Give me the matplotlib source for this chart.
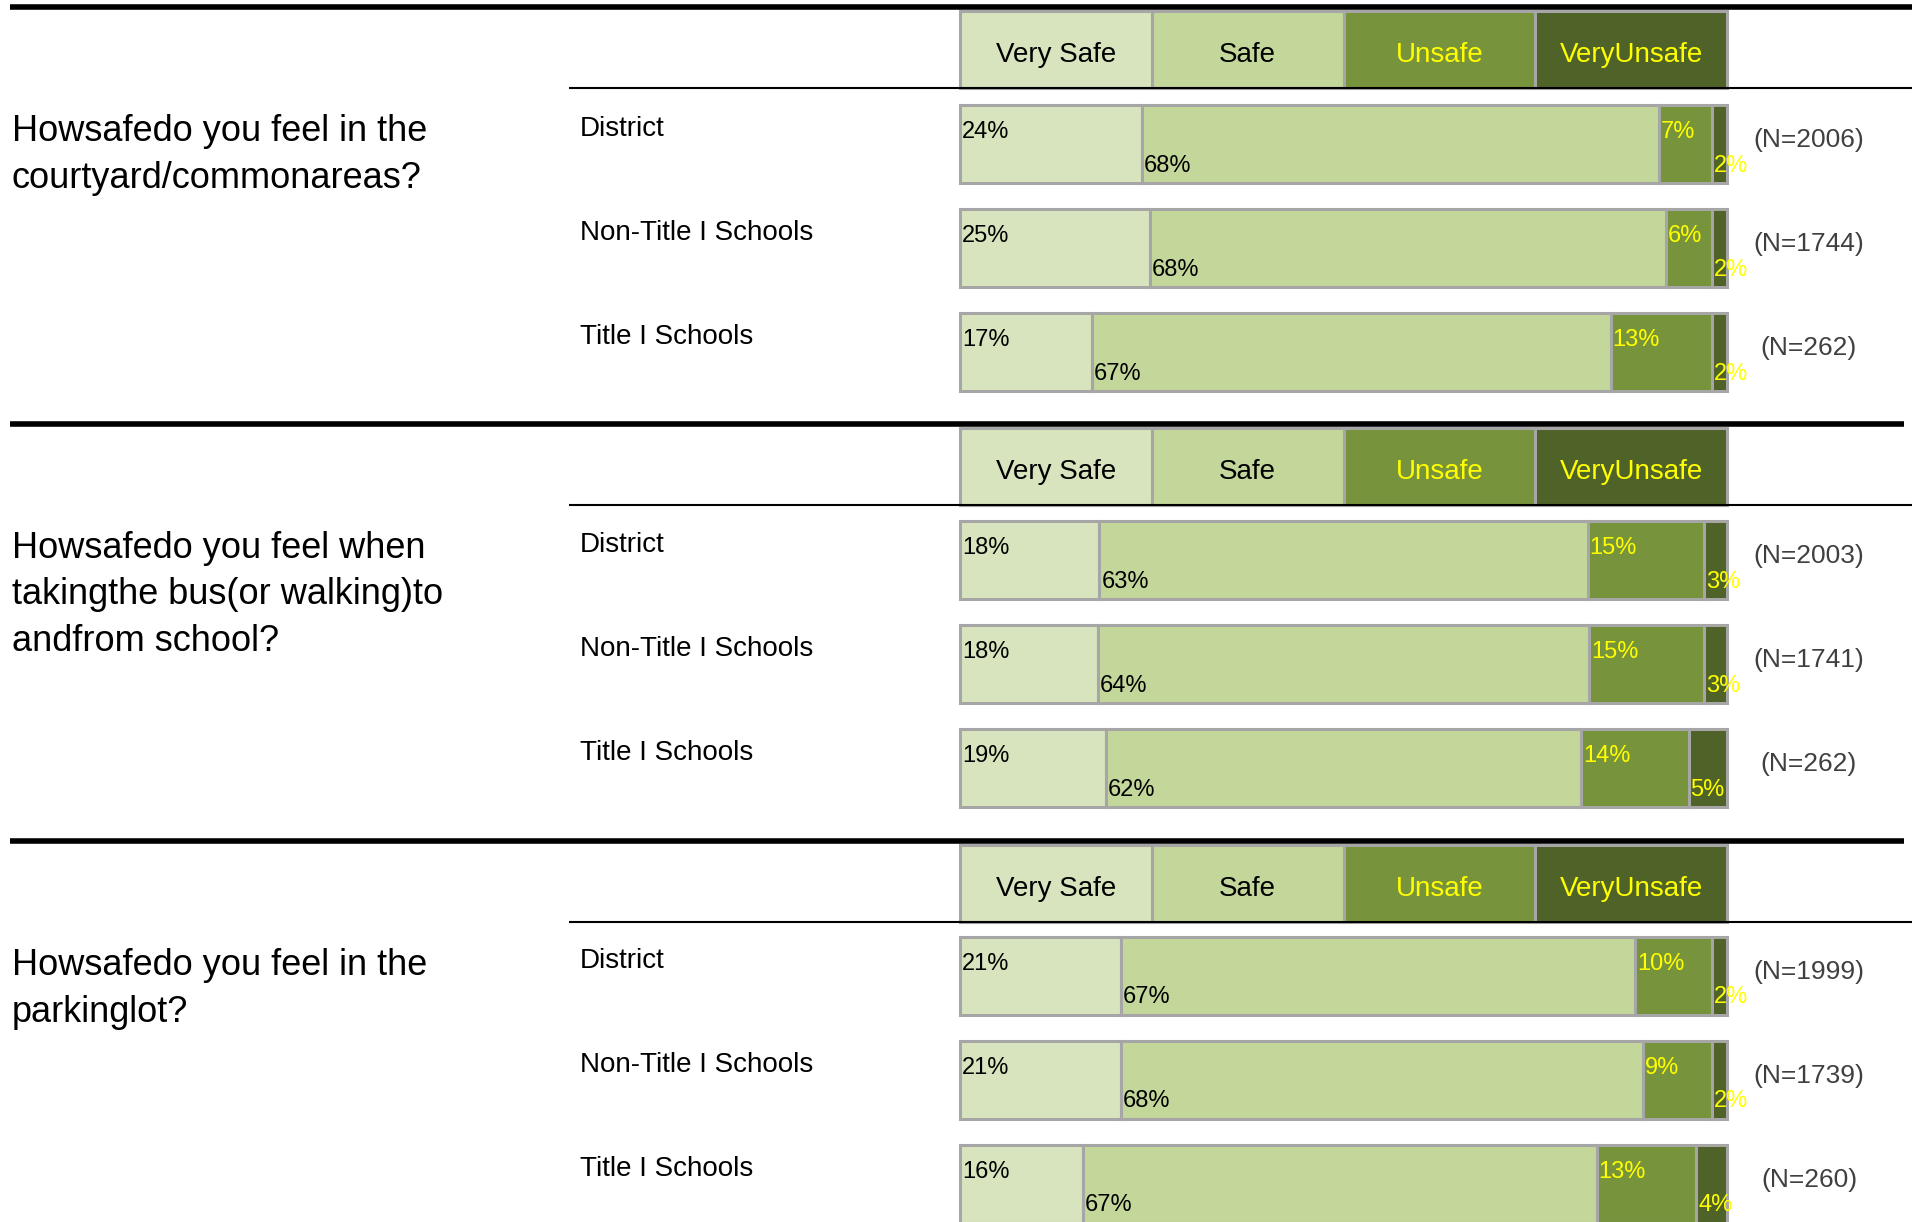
import matplotlib
matplotlib.use('Agg')
import matplotlib.pyplot as plt
import numpy as np

plt.rcParams['font.family'] = ['Liberation Sans', 'DejaVu Sans']

# ---------------- data ----------------
questions = [
    ["Howsafedo you feel in the", "courtyard/commonareas?"],
    ["Howsafedo you feel when", "takingthe bus(or walking)to", "andfrom school?"],
    ["Howsafedo you feel in the", "parkinglot?"],
]
groups = ["District", "Non-Title I Schools", "Title I Schools"]
categories = ["Very Safe", "Safe", "Unsafe", "VeryUnsafe"]

q1_values = [[24, 68, 7, 2], [25, 68, 6, 2], [17, 67, 13, 2]]
q1_n = [2006, 1744, 262]
q2_values = [[18, 63, 15, 3], [18, 64, 15, 3], [19, 62, 14, 5]]
q2_n = [2003, 1741, 262]
q3_values = [[21, 67, 10, 2], [21, 68, 9, 2], [16, 67, 13, 4]]
q3_n = [1999, 1739, 260]

blocks_values = [q1_values, q2_values, q3_values]
blocks_n = [q1_n, q2_n, q3_n]

# ---------------- style ----------------
seg_colors = ['#D7E4BD', '#C4D79B', '#77933C', '#4F6228']
txt_colors = ['black', 'black', '#FFFF00', '#FFFF00']
edge = '#A6A6A6'

W, H = 1916, 1222
fig = plt.figure(figsize=(W / 100, H / 100), dpi=100)

# overlay axes in pixel coords for layout text
ov = fig.add_axes([0, 0, 1, 1])
ov.set_xlim(0, W)
ov.set_ylim(H, 0)
ov.axis('off')

# bar axes: x = share of respondents (0-100), y = pixel rows
bar_left, bar_w = 960, 767
ax = fig.add_axes([bar_left / W, 0, bar_w / W, 1])
ax.set_xlim(0, 100)
ax.set_ylim(H, 0)
ax.axis('off')

block_tops = [7, 424, 841]
block_shift = [0, -1, -2.5]
rule_right = [1912, 1904, 1904]
row_offsets = [137, 241, 345]
bar_h = 78
lw = 2.2

for b in range(3):
    top = block_tops[b]
    sh = block_shift[b]

    # header (category legend)
    hy = top + 3 + 39
    ax.barh([hy] * 4, [25] * 4, left=np.arange(4) * 25, height=77,
            color=seg_colors, edgecolor=edge, linewidth=lw, clip_on=False, zorder=1)
    for i, c in enumerate(categories):
        ax.text(i * 25 + 12.5, top + 55, c, ha='center', va='baseline',
                fontsize=20, color=txt_colors[i], zorder=3)

    # question text
    for li, line in enumerate(questions[b]):
        ov.text(12, top + 134 + li * 46.5, line, ha='left', va='baseline',
                fontsize=26, color='black')

    vals = np.array(blocks_values[b], dtype=float)
    for r in range(3):
        rc = top + row_offsets[r] + sh
        row = vals[r]
        share = row / row.sum() * 100
        lefts = np.concatenate([[0], np.cumsum(share)[:-1]])
        ax.barh([rc] * 4, share, left=lefts, height=bar_h, color=seg_colors,
                edgecolor=edge, linewidth=lw, clip_on=False, zorder=2)
        for i in range(4):
            ty = rc - 5.5 if i % 2 == 0 else rc + 27.5
            ax.text(lefts[i] + 0.25, ty, f"{int(row[i])}%", ha='left', va='baseline',
                    fontsize=17, color=txt_colors[i], zorder=4, clip_on=False)
        ov.text(580, rc - 8, groups[r], ha='left', va='baseline', fontsize=20, color='black')
        ov.text(1809, rc + 3.5, f"(N={blocks_n[b][r]})", ha='center', va='baseline',
                fontsize=19, color='#404040')

# black rules drawn on top of header boxes
top_ax = fig.add_axes([0, 0, 1, 1])
top_ax.set_xlim(0, W)
top_ax.set_ylim(H, 0)
top_ax.axis('off')
top_ax.patch.set_alpha(0)
for b in range(3):
    top = block_tops[b]
    top_ax.plot([10, rule_right[b]], [top, top], color='black', lw=4, solid_capstyle='butt')
    top_ax.plot([569, 1912], [top + 81, top + 81], color='black', lw=1.5, solid_capstyle='butt')

fig.savefig('out.png', dpi=100)
